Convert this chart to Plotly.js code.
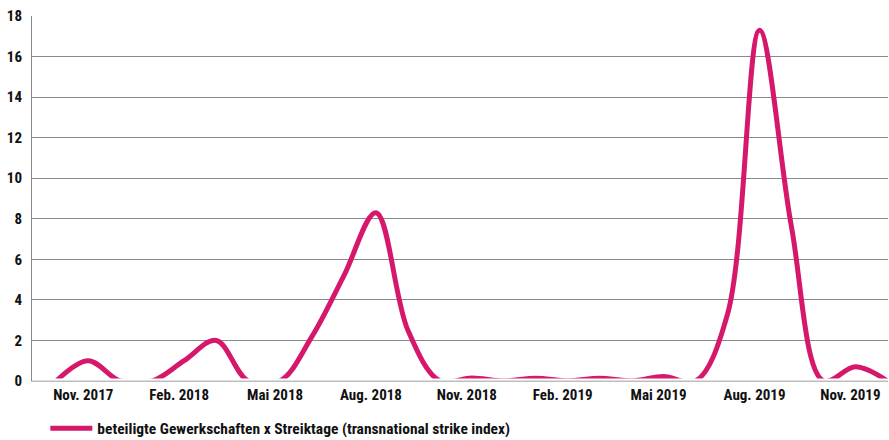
<!DOCTYPE html>
<html>
<head>
<meta charset="utf-8">
<script src="https://cdn.plot.ly/plotly-3.0.1.min.js"></script>
<style>
  html, body { margin: 0; padding: 0; background: #ffffff; }
  #chart { width: 889px; height: 440px; }
</style>
</head>
<body>
<div id="chart"></div>
<script>
const months = [
  "Okt. 2017", "Nov. 2017", "Dez. 2017",
  "Jan. 2018", "Feb. 2018", "März 2018", "Apr. 2018", "Mai 2018", "Juni 2018",
  "Juli 2018", "Aug. 2018", "Sep. 2018", "Okt. 2018", "Nov. 2018", "Dez. 2018",
  "Jan. 2019", "Feb. 2019", "März 2019", "Apr. 2019", "Mai 2019", "Juni 2019",
  "Juli 2019", "Aug. 2019", "Sep. 2019", "Okt. 2019", "Nov. 2019", "Dez. 2019"
];
const strikeIndex = [
  0, 1.0, 0,
  0, 1.0, 2.0, 0, 0, 2.2,
  5.2, 8.3, 2.5, 0, 0.15, 0,
  0.14, 0, 0.14, 0, 0.22, 0,
  3.3, 17.3, 7.6, 0, 0.7, 0
];
const tickLabels = ["Nov. 2017", "Feb. 2018", "Mai 2018", "Aug. 2018", "Nov. 2018",
                    "Feb. 2019", "Mai 2019", "Aug. 2019", "Nov. 2019"];
const seriesName = "beteiligte Gewerkschaften x Streiktage (transnational strike index)";

const FONT = "'Roboto Condensed', 'Liberation Sans Narrow', 'DejaVu Sans Condensed', sans-serif";
const PINK = "#d6186d";
const GRID = "#8a8a8a";

const trace = {
  type: "scatter",
  mode: "lines",
  x: months,
  y: strikeIndex,
  name: seriesName,
  line: { color: PINK, width: 5, shape: "spline", smoothing: 1 },
  hoverinfo: "skip"
};

const layout = {
  width: 889,
  height: 440,
  margin: { l: 32, r: 1, t: 16, b: 59, pad: 0 },
  paper_bgcolor: "#ffffff",
  plot_bgcolor: "#ffffff",
  font: { family: FONT, size: 15, color: "#111111", weight: "bold" },
  showlegend: true,
  legend: {
    orientation: "h",
    xref: "container", yref: "container",
    x: 0.051, xanchor: "left",
    y: 0.026, yanchor: "middle",
    itemwidth: 42,
    font: { family: FONT, size: 15.5, color: "#111111", weight: "bold" },
    bgcolor: "rgba(0,0,0,0)"
  },
  xaxis: {
    type: "category",
    categoryorder: "array",
    categoryarray: months,
    range: [-0.76, 26.02],
    tickmode: "array",
    tickvals: tickLabels,
    ticktext: tickLabels,
    ticks: "",
    ticklabelshift: -5,
    ticklabelstandoff: 0,
    showgrid: false,
    zeroline: false,
    showline: true,
    linecolor: "#bdbdbd",
    linewidth: 1,
    tickfont: { family: FONT, size: 15, color: "#111111", weight: "bold" },
    fixedrange: true
  },
  yaxis: {
    range: [0, 18],
    tickmode: "linear",
    tick0: 0,
    dtick: 2,
    ticks: "",
    ticklabelstandoff: 6,
    showgrid: true,
    gridcolor: GRID,
    gridwidth: 1,
    zeroline: false,
    showline: true,
    linecolor: GRID,
    linewidth: 1,
    tickfont: { family: FONT, size: 15, color: "#111111", weight: "bold" },
    fixedrange: true
  },
  shapes: [
    { type: "rect", layer: "above", xref: "paper", yref: "y",
      x0: 0.001, x1: 1, y0: 0, y1: 0.125,
      fillcolor: "#ffffff", line: { width: 0 } },
    { type: "line", layer: "above", xref: "paper", yref: "y",
      x0: 0, x1: 1, y0: 0, y1: 0,
      line: { color: "#bdbdbd", width: 1 } }
  ],
  hovermode: false
};

Plotly.newPlot("chart", [trace], layout, { displayModeBar: false, staticPlot: true });
</script>
</body>
</html>
